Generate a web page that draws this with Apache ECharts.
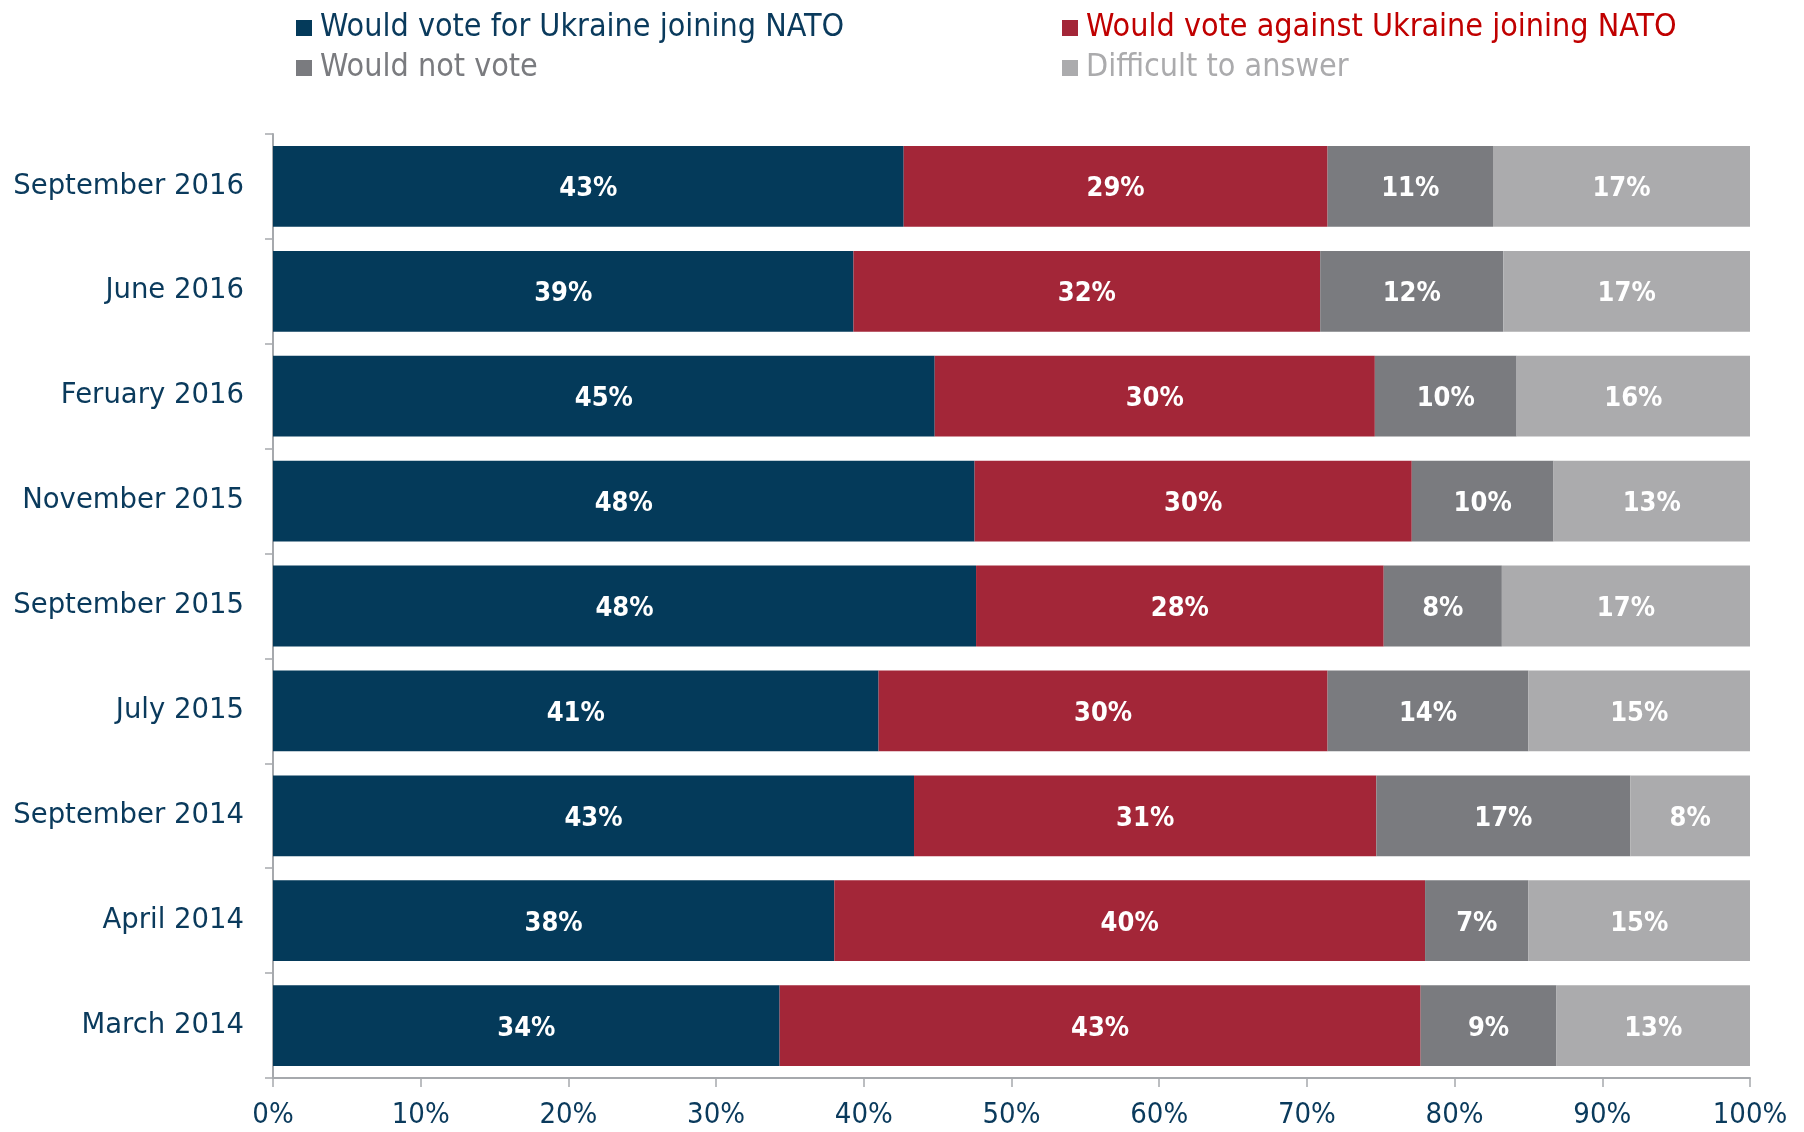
<!DOCTYPE html>
<html>
<head>
<meta charset="utf-8">
<script src="https://cdn.jsdelivr.net/npm/echarts@6/dist/echarts.min.js"></script>
<style>html,body{margin:0;padding:0;background:#fff}#c{width:1804px;height:1132px}</style>
</head>
<body>
<div id="c"></div>
<script>
const categories = ['September 2016','June 2016','Feruary 2016','November 2015','September 2015','July 2015','September 2014','April 2014','March 2014'];
const seriesNames = ['Would vote for Ukraine joining NATO','Would vote against Ukraine joining NATO','Would not vote','Difficult to answer'];
const voteFor     = [42.7, 39.3, 44.8, 47.5, 47.6, 41.0, 43.4, 38.0, 34.3];
const voteAgainst = [28.7, 31.6, 29.8, 29.6, 27.6, 30.4, 31.3, 40.0, 43.4];
const notVote     = [11.2, 12.4, 9.6, 9.6, 8.0, 13.6, 17.2, 7.0, 9.2];
const difficult   = [17.4, 16.7, 15.8, 13.3, 16.8, 15.0, 8.1, 15.0, 13.1];
const xTicks = [0,10,20,30,40,50,60,70,80,90,100];

const colors = ['#043A5A','#A32638','#7A7B7F','#ABABAD'];
const legendText = ['#0A3A5C','#C00000','#7A7B7F','#ABABAD'];
const values = [voteFor, voteAgainst, notVote, difficult];
const condensed = '"DejaVu Sans Condensed","Liberation Sans Narrow","DejaVu Sans",sans-serif';

const legendPos = [[296,12],[1062,12],[296,52],[1062,52]];
const chart = echarts.init(document.getElementById('c'), null, {renderer:'canvas'});
chart.setOption({
  animation:false,
  backgroundColor:'#ffffff',
  legend: seriesNames.map((n,i)=>({
    data:[n], left:legendPos[i][0], top:legendPos[i][1], orient:'horizontal', padding:0,
    icon:'rect', itemWidth:16, itemHeight:16, itemGap:6,
    textStyle:{color:legendText[i], fontSize:32, fontFamily:condensed, padding:[0,0,0,3]},
    selectedMode:false
  })),
  grid:{left:273, right:54, top:134, bottom:54, containLabel:false},
  xAxis:{
    type:'value', min:0, max:100, interval:10,
    axisLine:{show:true, lineStyle:{color:'#A6A9AD', width:2}},
    axisTick:{show:true, length:9, lineStyle:{color:'#A6A9AD', width:1.5}},
    splitLine:{show:false},
    axisLabel:{formatter:v=> xTicks.includes(v) ? v+'%' : '', color:'#0A3A5C', fontSize:29, fontFamily:condensed, margin:23}
  },
  yAxis:{
    type:'category', data:categories, inverse:true,
    axisLine:{show:true, lineStyle:{color:'#A6A9AD', width:2}},
    axisTick:{show:true, length:8, lineStyle:{color:'#A6A9AD', width:1.5}},
    axisLabel:{color:'#0A3A5C', fontSize:27.5, fontFamily:'"DejaVu Sans",sans-serif', margin:29, padding:[11,0,0,0]}
  },
  series: seriesNames.map((n,i)=>({
    name:n, type:'bar', stack:'total', data:values[i],
    barCategoryGap:'23%',
    itemStyle:{color:colors[i]},
    label:{show:true, position:'inside', offset:[0,3], color:'#ffffff', fontSize:27, fontWeight:'bold', fontFamily:condensed,
      formatter:p=>Math.round(p.value)+'%'}
  }))
});
</script>
</body>
</html>
